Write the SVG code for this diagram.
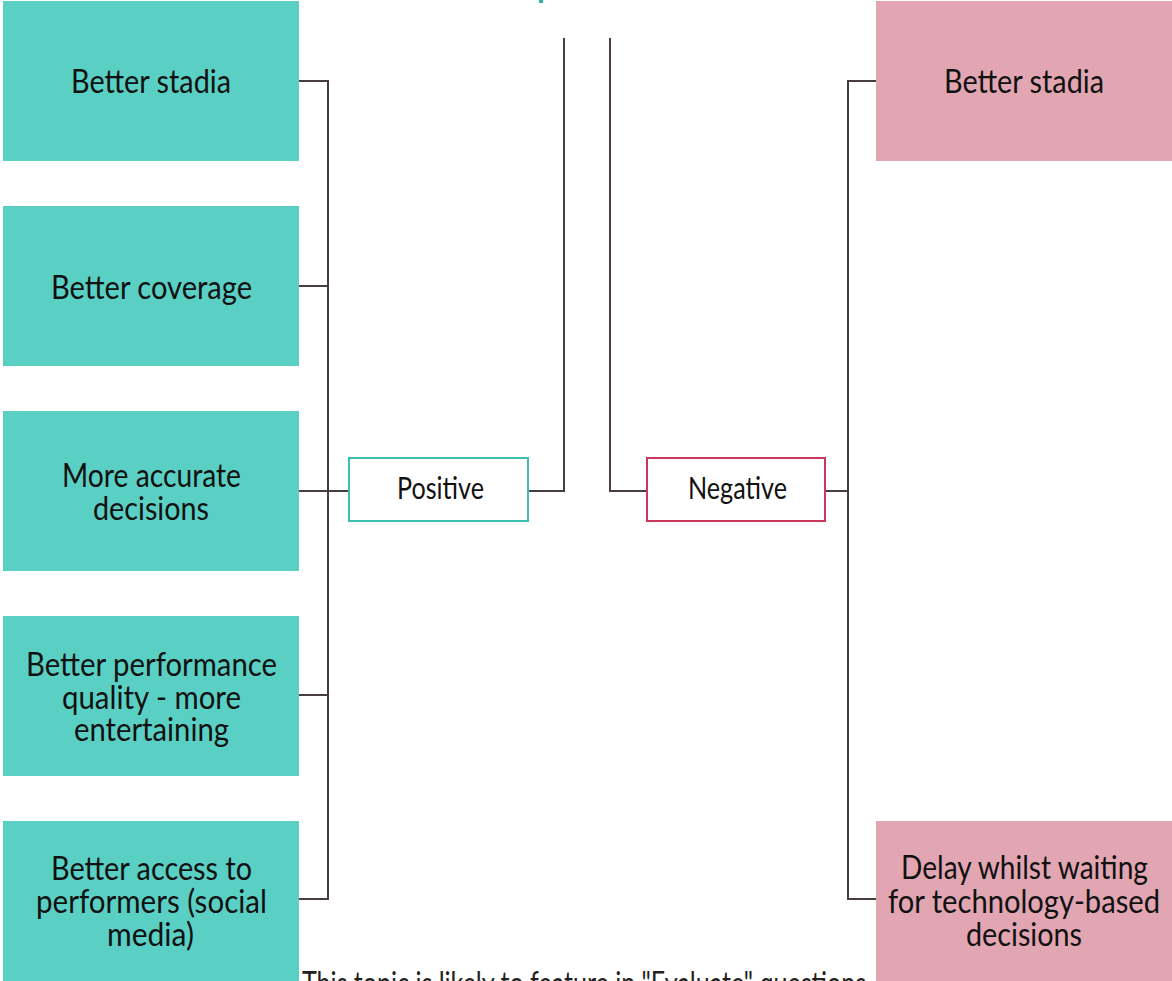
<svg xmlns="http://www.w3.org/2000/svg" width="1172" height="981" viewBox="0 0 1172 981">
  <style>
    .pos { fill: #5acfc3; }
    .neg { fill: #e2a6b3; }
    .lbl { font-family: Lato, "Liberation Sans", sans-serif; font-size: 33px; fill: #111; }
    .tag { fill: #fff; stroke-width: 2; }
    .wire { fill: none; stroke: #4a3d42; stroke-width: 2; }
  </style>

  <!-- descender of the cut-off heading -->
  <rect x="539" y="0" width="4" height="3" fill="#2ab3a4"/>

  <!-- connectors -->
  <g id="connectors" class="wire">
    <!-- left bus -->
    <path d="M299 81 H328 V899 H299"/>
    <path d="M299 286 H328"/>
    <path d="M299 491 H349"/>
    <path d="M299 695 H328"/>
    <!-- Positive up to the title -->
    <path d="M528 491 H564 V38"/>
    <!-- title down to Negative -->
    <path d="M610 38 V491 H647"/>
    <!-- right bus -->
    <path d="M825 491 H848"/>
    <path d="M876 81 H848 V899 H876"/>
  </g>

  <g id="pos-stadia">
    <rect class="pos" x="3" y="1" width="296" height="160"/>
    <text class="lbl" x="71" y="93" textLength="160" lengthAdjust="spacingAndGlyphs">Better stadia</text>
  </g>
  <g id="pos-coverage">
    <rect class="pos" x="3" y="206" width="296" height="160"/>
    <text class="lbl" x="51" y="299" textLength="201" lengthAdjust="spacingAndGlyphs">Better coverage</text>
  </g>
  <g id="pos-decisions">
    <rect class="pos" x="3" y="411" width="296" height="160"/>
    <text class="lbl" x="62" y="487" textLength="179" lengthAdjust="spacingAndGlyphs">More accurate</text>
    <text class="lbl" x="93" y="520" textLength="116" lengthAdjust="spacingAndGlyphs">decisions</text>
  </g>
  <g id="pos-quality">
    <rect class="pos" x="3" y="616" width="296" height="160"/>
    <text class="lbl" x="26" y="676" textLength="251" lengthAdjust="spacingAndGlyphs">Better performance</text>
    <text class="lbl" x="62" y="709" textLength="179" lengthAdjust="spacingAndGlyphs">quality - more</text>
    <text class="lbl" x="74" y="741" textLength="155" lengthAdjust="spacingAndGlyphs">entertaining</text>
  </g>
  <g id="pos-access">
    <rect class="pos" x="3" y="821" width="296" height="160"/>
    <text class="lbl" x="51" y="880" textLength="201" lengthAdjust="spacingAndGlyphs">Better access to</text>
    <text class="lbl" x="36" y="913" textLength="231" lengthAdjust="spacingAndGlyphs">performers (social</text>
    <text class="lbl" x="107" y="946" textLength="87" lengthAdjust="spacingAndGlyphs">media)</text>
  </g>

  <g id="positive">
    <rect class="tag" x="349" y="458" width="179" height="63" stroke="#3dbfb1"/>
    <text class="lbl" x="397" y="499" textLength="87" lengthAdjust="spacingAndGlyphs" style="font-size:30px">Positive</text>
  </g>
  <g id="negative">
    <rect class="tag" x="647" y="458" width="178" height="63" stroke="#c8385c"/>
    <text class="lbl" x="688" y="499" textLength="99" lengthAdjust="spacingAndGlyphs" style="font-size:30px">Negative</text>
  </g>

  <g id="neg-stadia">
    <rect class="neg" x="876" y="1" width="296" height="160"/>
    <text class="lbl" x="944" y="93" textLength="160" lengthAdjust="spacingAndGlyphs">Better stadia</text>
  </g>
  <g id="neg-delay">
    <rect class="neg" x="876" y="821" width="296" height="160"/>
    <text class="lbl" x="901" y="879" textLength="247" lengthAdjust="spacingAndGlyphs">Delay whilst waiting</text>
    <text class="lbl" x="888" y="913" textLength="272" lengthAdjust="spacingAndGlyphs">for technology-based</text>
    <text class="lbl" x="966" y="946" textLength="116" lengthAdjust="spacingAndGlyphs">decisions</text>
  </g>

  <g id="footnote">
    <text class="lbl" x="302" y="995" textLength="564" lengthAdjust="spacingAndGlyphs" style="fill:#231f20">This topic is likely to feature in "Evaluate" questions</text>
  </g>
</svg>
